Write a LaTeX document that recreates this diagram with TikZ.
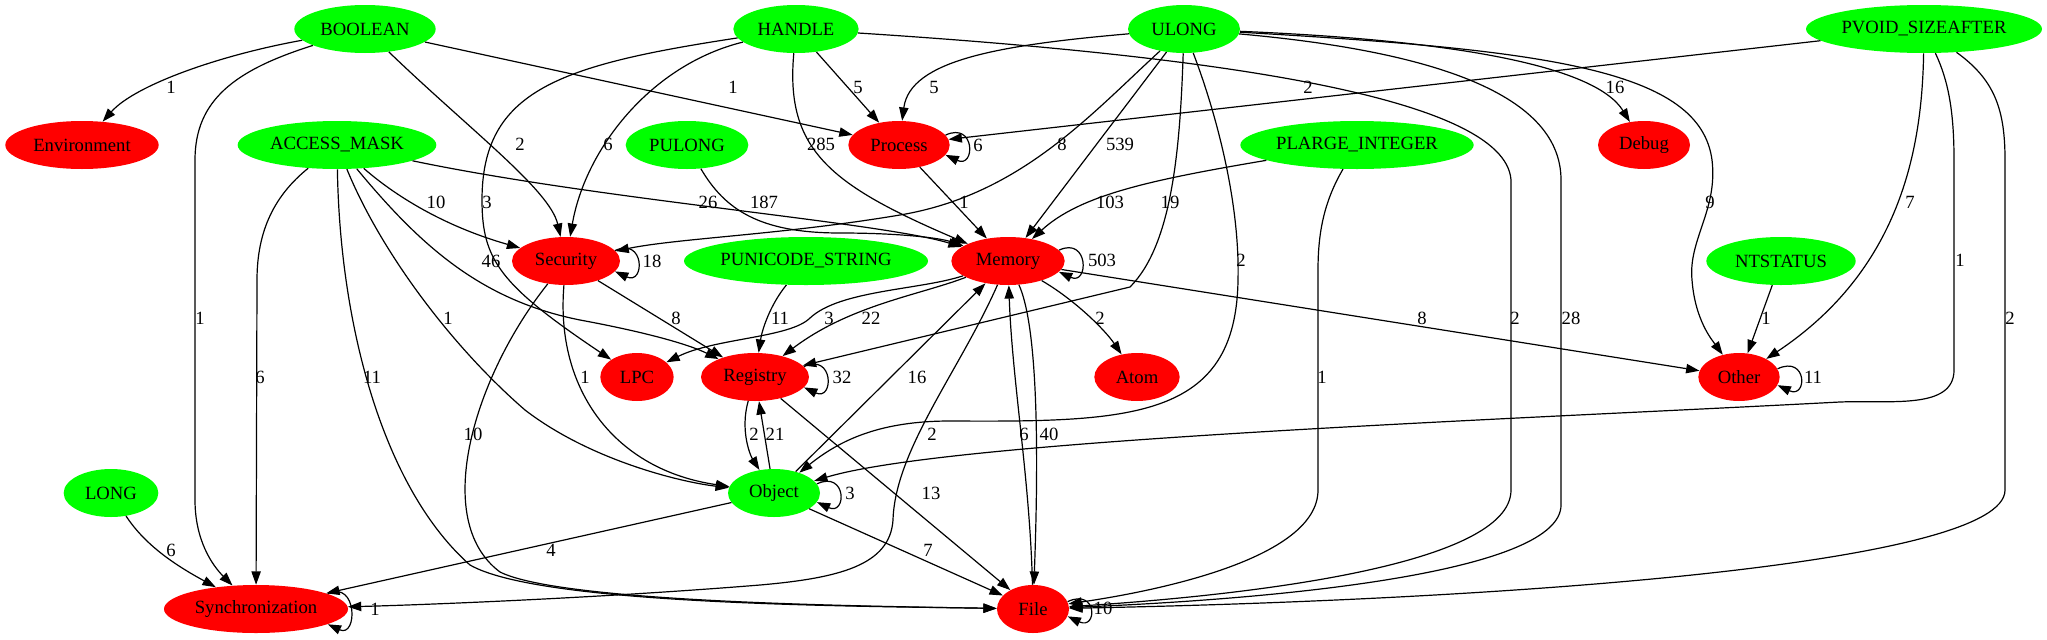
\documentclass[tikz,border=0pt]{standalone}
\usepackage{fontspec}
\setmainfont{Liberation Serif}
\usetikzlibrary{shapes.geometric,arrows.meta}
\tikzset{
  vertex/.style={ellipse, inner sep=0pt, minimum height=36pt,
    font=\fontsize{14}{16}\selectfont,
    execute at begin node={\hbox to 0pt\bgroup\hss},
    execute at end node={\hss\egroup}},
  param/.style={vertex, fill=green},
  cat/.style={vertex, fill=red},
  flow/.style={draw, line width=0.9pt, -{Triangle[length=10pt,width=7pt]}},
  cnt/.style={inner sep=0pt, font=\fontsize{14}{16}\selectfont}
}
\begin{document}
\begin{tikzpicture}[x=0.75pt,y=-0.75pt]
            \useasboundingbox (0,0) rectangle (2047,639);
            \node[param, minimum width=106pt] (boolean) at (365,29) {BOOLEAN};
            \node[param, minimum width=94pt] (handle) at (796,29) {HANDLE};
            \node[param, minimum width=84pt] (ulong) at (1184,29) {ULONG};
            \node[param, minimum width=177pt] (pvoid) at (1924,29) {PVOID\_SIZEAFTER};
            \node[cat, minimum width=115pt] (environment) at (82,145) {Environment};
            \node[param, minimum width=149pt] (access) at (337,145) {ACCESS\_MASK};
            \node[param, minimum width=92pt] (pulong) at (687,145) {PULONG};
            \node[cat, minimum width=76pt] (process) at (899,145) {Process};
            \node[param, minimum width=175pt] (plarge) at (1357,145) {PLARGE\_INTEGER};
            \node[cat, minimum width=69pt] (debug) at (1644,145) {Debug};
            \node[cat, minimum width=81pt] (security) at (566,261) {Security};
            \node[param, minimum width=183pt] (punicode) at (806,261) {PUNICODE\_STRING};
            \node[cat, minimum width=85pt] (memory) at (1008,261) {Memory};
            \node[param, minimum width=112pt] (ntstatus) at (1781,261) {NTSTATUS};
            \node[cat, minimum width=55pt] (lpc) at (637,377) {LPC};
            \node[cat, minimum width=81pt] (registry) at (755,377) {Registry};
            \node[cat, minimum width=64pt] (atom) at (1137,377) {Atom};
            \node[cat, minimum width=61pt] (other) at (1739,377) {Other};
            \node[param, minimum width=71pt] (long) at (111,493) {LONG};
            \node[param, minimum width=69pt] (object) at (774,493) {Object};
            \node[cat, minimum width=138pt] (synchronization) at (256,609) {Synchronization};
            \node[cat, minimum width=54pt] (file) at (1033,609) {File};

            \draw[flow] (boolean) .. controls (220,55) and (135,85) .. (environment);
            \draw[flow] (boolean) .. controls (235,70) and (195,100) .. (195,160) -- (195,500) .. controls (195,540) and (212,565) .. (synchronization);
            \draw[flow] (boolean) .. controls (470,130) and (550,190) .. (security);
            \draw[flow] (boolean) -- (process);

            \draw[flow] (handle) -- (process);
            \draw[flow] (handle) .. controls (650,65) and (585,150) .. (security);
            \draw[flow] (handle) .. controls (560,65) and (482,90) .. (482,200) .. controls (482,260) and (500,285) .. (lpc);
            \draw[flow] (handle) .. controls (785,150) and (830,185) .. (memory);
            \draw[flow] (handle) .. controls (1200,55) and (1505,95) .. (1511,180) -- (1511,490) .. controls (1511,565) and (1250,595) .. (file);

            \draw[flow] (ulong) .. controls (1000,45) and (910,60) .. (process);
            \draw[flow] (ulong) .. controls (1090,115) and (1020,195) .. (900,215) .. controls (780,235) and (680,238) .. (security);
            \draw[flow] (ulong) -- (memory);
            \draw[flow] (ulong) .. controls (1180,150) and (1172,245) .. (1130,287) -- (registry);
            \draw[flow] (ulong) .. controls (1215,110) and (1240,200) .. (1238,280) .. controls (1236,420) and (1130,422) .. (950,421) .. controls (880,421) and (840,440) .. (object);
            \draw[flow] (ulong) .. controls (1420,50) and (1561,90) .. (1561,180) -- (1561,505) .. controls (1561,570) and (1300,598) .. (file);
            \draw[flow] (ulong) .. controls (1450,40) and (1595,65) .. (debug);
            \draw[flow] (ulong) .. controls (1550,50) and (1700,70) .. (1712,160) .. controls (1718,210) and (1688,240) .. (1692,280) .. controls (1695,320) and (1712,340) .. (other);

            \draw[flow] (pvoid) -- (process);
            \draw[flow] (pvoid) .. controls (1922,150) and (1900,270) .. (other);
            \draw[flow] (pvoid) .. controls (1948,80) and (1954,110) .. (1954,160) -- (1954,370) .. controls (1954,410) and (1890,400) .. (1840,402) .. controls (1500,420) and (950,440) .. (object);
            \draw[flow] (pvoid) .. controls (1995,80) and (2005,110) .. (2005,160) -- (2005,490) .. controls (2005,565) and (1500,600) .. (file);

            \draw[flow] (plarge) .. controls (1150,180) and (1080,195) .. (memory);
            \draw[flow] (plarge) .. controls (1325,200) and (1318,230) .. (1318,270) -- (1318,490) .. controls (1318,560) and (1150,592) .. (file);
            \draw[flow] (pulong) .. controls (725,210) and (760,233) .. (840,233) .. controls (900,233) and (940,238) .. (memory);

            \draw[flow] (access) .. controls (600,200) and (880,222) .. (memory);
            \draw[flow] (access) .. controls (400,200) and (450,228) .. (security);
            \draw[flow] (access) .. controls (420,245) and (480,300) .. (580,320) .. controls (650,333) and (690,345) .. (registry);
            \draw[flow] (access) .. controls (380,250) and (450,345) .. (525,410) .. controls (590,460) and (680,482) .. (object);
            \draw[flow] (access) .. controls (275,195) and (257,230) .. (257,280) -- (synchronization);
            \draw[flow] (access) .. controls (340,330) and (385,490) .. (470,565) .. controls (540,605) and (850,606) .. (file);

            \draw[flow] (security.12) .. controls +(30,-14) and +(30,14) .. (security.-12);
            \draw[flow] (security) -- (registry);
            \draw[flow] (security) .. controls (555,390) and (615,470) .. (object);
            \draw[flow] (security) .. controls (475,375) and (430,520) .. (500,572) .. controls (560,602) and (850,606) .. (file);

            \draw[flow] (memory.12) .. controls +(30,-14) and +(30,14) .. (memory.-12);
            \draw[flow] (memory) .. controls (920,290) and (840,290) .. (810,318) .. controls (790,338) and (715,338) .. (lpc);
            \draw[flow] (memory) .. controls (920,295) and (850,305) .. (registry);
            \draw[flow] (memory) .. controls (1075,300) and (1105,330) .. (atom);
            \draw[flow] (memory) -- (other);
            \draw[flow] (memory) .. controls (1035,320) and (1040,420) .. (file);
            \draw[flow] (file) .. controls (1030,480) and (1012,380) .. (memory);
            \draw[flow] (memory) .. controls (960,370) and (895,450) .. (893,520) .. controls (890,565) and (840,578) .. (760,585) .. controls (600,598) and (420,605) .. (synchronization);

            \draw[flow] (process.12) .. controls +(30,-14) and +(30,14) .. (process.-12);
            \draw[flow] (process) -- (memory);
            \draw[flow] (punicode) .. controls (770,305) and (762,330) .. (registry);

            \draw[flow] (registry.12) .. controls +(30,-14) and +(30,14) .. (registry.-12);
            \draw[flow] (registry) .. controls (740,430) and (750,455) .. (object);
            \draw[flow] (object) -- (registry);
            \draw[flow] (registry) -- (file);

            \draw[flow] (object.12) .. controls +(30,-14) and +(30,14) .. (object.-12);
            \draw[flow] (object) -- (memory);
            \draw[flow] (object) -- (synchronization);
            \draw[flow] (object) -- (file);

            \draw[flow] (long) .. controls (145,545) and (175,565) .. (synchronization);
            \draw[flow] (ntstatus) -- (other);
            \draw[flow] (other.12) .. controls +(30,-14) and +(30,14) .. (other.-12);
            \draw[flow] (file.12) .. controls +(30,-14) and +(30,14) .. (file.-12);
            \draw[flow] (synchronization.12) .. controls +(30,-14) and +(30,14) .. (synchronization.-12);

            \foreach \x/\y/\t [count=\i] in {171/87/1, 200/318/1, 520/144/2, 733/87/1,
                858/87/5, 608/144/6, 487/202/3, 821/144/285, 1515/318/2,
                934/87/5, 1062/144/8, 1120/144/539, 1170/202/19, 1241/260/2, 1571/318/28, 1615/87/16, 1710/202/9,
                1308/87/2, 1910/202/7, 1960/260/1, 2010/318/2,
                1110/202/103, 1322/377/1, 764/202/187,
                708/202/26, 436/202/10, 491/261/46, 448/318/1, 260/377/6, 372/377/11,
                652/261/18, 676/318/8, 585/377/1, 473/434/10,
                1102/260/503, 829/318/3, 871/318/22, 1100/318/2, 1422/318/8, 1049/434/40, 1024/434/6, 932/434/2,
                978/145/6, 964/202/1, 780/318/11,
                842/377/32, 754/434/2, 775/434/21, 931/493/13,
                850/493/3, 917/377/16, 551/550/4, 928/550/7,
                171/550/6, 1766/318/1, 1813/377/11, 1103/608/10, 375/609/1}
              \node[cnt] (w\i) at (\x,\y) {\t};
\end{tikzpicture}
\end{document}
